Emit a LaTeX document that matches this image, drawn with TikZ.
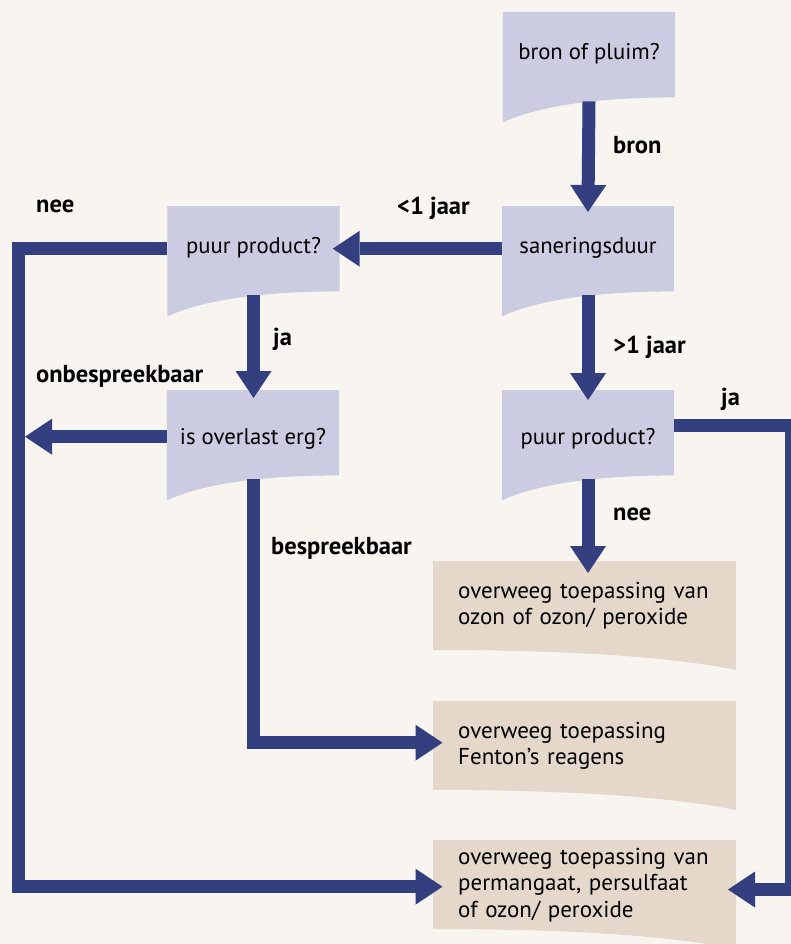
\documentclass[tikz,border=0pt]{standalone}
\usepackage{fontspec}
\setmainfont{PT Sans}
\usepackage{tikz}
\usetikzlibrary{calc}
\usetikzlibrary{arrows.meta}
\usetikzlibrary{backgrounds}

\definecolor{achtergrond}{RGB}{248,245,240}
\definecolor{blauwvlak}{RGB}{203,204,225}
\definecolor{beigevlak}{RGB}{229,216,203}
\definecolor{pijlblauw}{RGB}{51,63,126}

\begin{document}
\begin{tikzpicture}[x=1pt, y=-1pt,
		vraag/.style={anchor=north, minimum width=172pt, minimum height=85pt, inner sep=0pt, text height=15pt, text depth=5pt, font=\fontsize{22.7}{26}\selectfont},
		laag/.style={text height=29pt},
		optie/.style={anchor=north west, text width=262pt, align=left, inner xsep=25pt, inner ysep=0pt, minimum height=89pt, font=\fontsize{23}{26.5}\selectfont},
		keuze/.style={anchor=base west, inner sep=0pt, font=\fontsize{24.5}{26}\selectfont\bfseries},
		pijl/.style={pijlblauw, line width=13pt, -{Triangle[length=27pt, width=36pt, line width=0pt]}}]
			\useasboundingbox (0, 0) rectangle (791, 944);
			% \draw[very thin, gray](0, 0)grid[step=50](791, 944);

			\node[vraag] (bron_pluim) at (589, 12) {bron of pluim?};
			\node[vraag] (sanering) at (588, 206) {saneringsduur};
			\node[vraag] (puur_links) at (253.5, 206) {puur product?};
			\node[vraag, laag] (overlast) at (253, 390) {is overlast erg?};
			\node[vraag, laag] (puur_rechts) at (588, 390) {puur product?};

			\node[optie] (optie_ozon) at (433, 561) {overweeg toepassing van\\ozon of ozon/ peroxide};
			\node[optie] (optie_fenton) at (433, 701) {overweeg toepassing\\Fenton’s reagens};
			\node[optie] (optie_perm) at (433, 840) {overweeg toepassing van\\permangaat, persulfaat\\of ozon/ peroxide};

			\begin{scope}[on background layer]
				\fill[achtergrond] (0, 0) rectangle (791, 944);
				\foreach \n in {bron_pluim, sanering, puur_links, overlast, puur_rechts}
					\fill[blauwvlak] (\n.north west) -- (\n.north east) -- (\n.south east) .. controls +(-75, 0) and +(37, -17) .. ($(\n.south west)+(0, 25)$) -- cycle;
				\foreach \n in {optie_ozon, optie_fenton, optie_perm}
					\fill[beigevlak] (\n.north west) -- ++(303, 0) -- ++(0, 109) .. controls +(-67, -13.6) and +(133, 0) .. ($(\n.north west)+(0, 89)$) -- cycle;
			\end{scope}

			\coordinate (links) at (18.5, 0);
			\coordinate (rechts) at (791, 0);
			\coordinate (fenton_in) at ($(optie_fenton.west)+(0, -3)$);
			\coordinate (perm_in) at ($(optie_perm.west)+(0, 2)$);
			\coordinate (perm_uit) at ($(optie_perm.north west)+(303, 49.5)$);
			\coordinate (ja_uit) at ($(puur_rechts.east)+(0, -7)$);

			\draw[pijl, shorten >=-6pt] ($(bron_pluim.south)+(0, 4)$) -- (sanering.north);
			\draw[pijl, shorten >=-7pt] (sanering.west) -- (puur_links.east);
			\draw[pijl, shorten >=-8pt] ($(puur_links.south)+(0, 4)$) -- (puur_links.south |- overlast.north);
			\draw[pijl, shorten >=-10pt] ($(sanering.south)+(0, 4)$) -- (puur_rechts.north);
			\draw[pijl, shorten >=-12pt] ($(puur_rechts.south)+(0, 4)$) -- (puur_rechts.south |- optie_ozon.north);

			\draw[pijl, shorten >=-9.5pt] (puur_links.west) -- (links |- puur_links.west) -- (links |- perm_in) -- (perm_in);
			\draw[pijl] ($(overlast.west)+(0, 4)$) -- ($(links |- overlast.west)+(6.5, 4)$);
			\draw[pijl, shorten >=-9.5pt] ($(overlast.south)+(0, 4)$) -- (overlast.south |- fenton_in) -- (fenton_in);
			\draw[pijl, shorten >=-8pt] (ja_uit) -- (rechts |- ja_uit) -- (rechts |- perm_uit) -- (perm_uit);

			\node[keuze] (l_bron) at (613, 154) {bron};
			\node[keuze] (l_kort) at (397, 214) {<1 jaar};
			\node[keuze] (l_nee_links) at (36, 212) {nee};
			\node[keuze] (l_lang) at (613, 353) {>1 jaar};
			\node[keuze] (l_ja_links) at (273, 345) {ja};
			\node[keuze] (l_onbespreekbaar) at (36, 382) {onbespreekbaar};
			\node[keuze] (l_ja_rechts) at (721, 405) {ja};
			\node[keuze] (l_nee_rechts) at (613, 520) {nee};
			\node[keuze] (l_bespreekbaar) at (271, 554) {bespreekbaar};
		\end{tikzpicture}
\end{document}
